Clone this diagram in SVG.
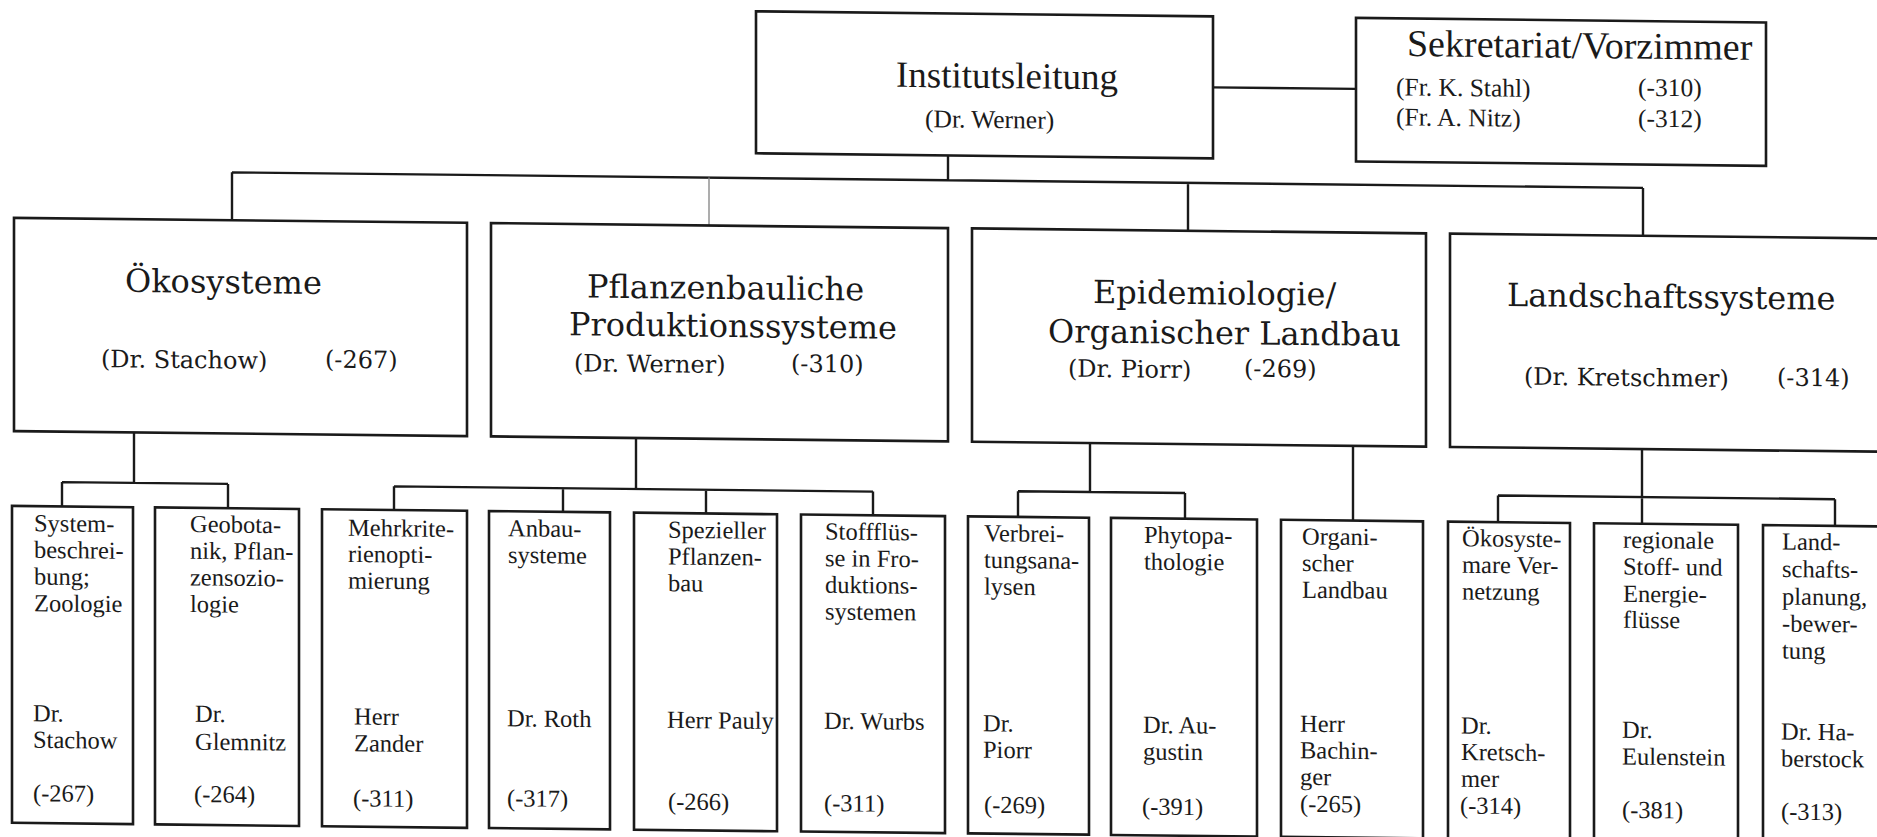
<svg xmlns="http://www.w3.org/2000/svg" width="1877" height="837" viewBox="0 0 1877 837">
<style>
.box{fill:#fff;stroke:#1a1a1a;stroke-width:2.6}
.ln{fill:none;stroke:#1a1a1a;stroke-width:2.4}
.thin{fill:none;stroke:#8a8a8a;stroke-width:1.4}
text{fill:#1a1a1a}
.h1{font-family:"Liberation Serif","Times New Roman",serif;font-size:37px}
.s1{font-family:"Liberation Serif","Times New Roman",serif;font-size:25.5px}
.h2{font-family:"DejaVu Serif",serif;font-size:32px}
.s2{font-family:"DejaVu Serif",serif;font-size:24px}
.t3{font-family:"Liberation Serif","Times New Roman",serif;font-size:24.5px}
</style>
<rect width="1877" height="837" fill="#fff"/>
<g transform="matrix(1 0.011 0 1 0 0)">
<g id="connectors">
<path class="ln" d="M1213 74H1356"/>
<path class="ln" d="M948 145V169.8M232 169.8H1643M232 169.8V217.7M1188 169.8V217.7M1643 169.8V217.7"/>
<path class="thin" d="M709 169.8V217.7"/>
<path class="ln" d="M134 431V481.4M62 481.4H228M62 481.4V505.7M228 481.4V505.7"/>
<path class="ln" d="M636 431V482M394 482H873M394 482V505.7M563 482V505.7M706 482V505.7M873 482V505.7"/>
<path class="ln" d="M1090 431V480M1018 480H1185M1018 480V505.7M1185 480V505.7M1353 431V505.7"/>
<path class="ln" d="M1642 431V505.7M1498 479H1835M1498 479V505.7M1835 479V505.7"/>
</g>
<g id="institutsleitung">
<rect class="box" x="756" y="3" width="457" height="142"/>
<text class="h1" x="896" y="77">Institutsleitung</text>
<text class="s1" x="925" y="117">(Dr. Werner)</text>
</g>
<g id="sekretariat">
<rect class="box" x="1356" y="3" width="410" height="143.5"/>
<text class="h1" x="1407" y="40.6" style="font-size:38px">Sekretariat/Vorzimmer</text>
<text class="s1" x="1396" y="80">(Fr. K. Stahl)</text>
<text class="s1" x="1638" y="77.7">(-310)</text>
<text class="s1" x="1396" y="110">(Fr. A. Nitz)</text>
<text class="s1" x="1638" y="108.7">(-312)</text>
</g>
<g id="oekosysteme">
<rect class="box" x="14" y="217.7" width="453" height="213.3"/>
<text class="h2" x="125" y="290.5">Ökosysteme</text>
<text class="s2" x="101" y="366">(Dr. Stachow)</text>
<text class="s2" x="325" y="364">(-267)</text>
</g>
<g id="pflanzenbau">
<rect class="box" x="491" y="217.7" width="457" height="213.3"/>
<text class="h2" x="587" y="291">Pflanzenbauliche</text>
<text class="h2" x="569" y="329">Produktionssysteme</text>
<text class="s2" x="574" y="365">(Dr. Werner)</text>
<text class="s2" x="791" y="363">(-310)</text>
</g>
<g id="epidemiologie">
<rect class="box" x="972" y="217.7" width="454" height="213.3"/>
<text class="h2" x="1093" y="291">Epidemiologie/</text>
<text class="h2" x="1048" y="330.6">Organischer Landbau</text>
<text class="s2" x="1068" y="365">(Dr. Piorr)</text>
<text class="s2" x="1244" y="363">(-269)</text>
</g>
<g id="landschaftssysteme">
<rect class="box" x="1450" y="217.7" width="460" height="213.3"/>
<text class="h2" x="1507" y="289.5">Landschaftssysteme</text>
<text class="s2" x="1524" y="368">(Dr. Kretschmer)</text>
<text class="s2" x="1777" y="366">(-314)</text>
</g>
<g id="systembeschreibung">
<rect class="box" x="12" y="505.7" width="121" height="317"/>
<text class="t3"><tspan x="34" y="530.9">System-</tspan><tspan x="34" y="557.5">beschrei-</tspan><tspan x="34" y="584.2">bung;</tspan><tspan x="34" y="610.9">Zoologie</tspan><tspan x="33" y="720.9">Dr.</tspan><tspan x="33" y="747.5">Stachow</tspan><tspan x="33" y="800.9">(-267)</tspan></text>
</g>
<g id="geobotanik">
<rect class="box" x="155" y="505.7" width="144" height="317"/>
<text class="t3"><tspan x="190" y="530">Geobota-</tspan><tspan x="190" y="556.6">nik, Pflan-</tspan><tspan x="190" y="583.3">zensozio-</tspan><tspan x="190" y="610">logie</tspan><tspan x="195" y="719.6">Dr.</tspan><tspan x="195" y="747.5">Glemnitz</tspan><tspan x="194" y="800">(-264)</tspan></text>
</g>
<g id="mehrkriterien">
<rect class="box" x="322" y="505.7" width="145" height="317"/>
<text class="t3"><tspan x="348" y="532">Mehrkrite-</tspan><tspan x="348" y="558.2">rienopti-</tspan><tspan x="348" y="584.6">mierung</tspan><tspan x="354" y="720.7">Herr</tspan><tspan x="354" y="747.4">Zander</tspan><tspan x="353" y="802.4">(-311)</tspan></text>
</g>
<g id="anbausysteme">
<rect class="box" x="489" y="505.7" width="121" height="317"/>
<text class="t3"><tspan x="508" y="530.7">Anbau-</tspan><tspan x="508" y="557.3">systeme</tspan><tspan x="507" y="720.7">Dr. Roth</tspan><tspan x="507" y="800.7">(-317)</tspan></text>
</g>
<g id="spezieller">
<rect class="box" x="634" y="505.7" width="143" height="317"/>
<text class="t3"><tspan x="668" y="530.5">Spezieller</tspan><tspan x="668" y="557.2">Pflanzen-</tspan><tspan x="668" y="583.9">bau</tspan><tspan x="667" y="720.5">Herr Pauly</tspan><tspan x="668" y="802.2">(-266)</tspan></text>
</g>
<g id="stofffluesse">
<rect class="box" x="801" y="505.7" width="144" height="317"/>
<text class="t3"><tspan x="825" y="530.4">Stoffflüs-</tspan><tspan x="825" y="557.1">se in Fro-</tspan><tspan x="825" y="583.7">duktions-</tspan><tspan x="825" y="610.4">systemen</tspan><tspan x="824" y="719.7">Dr. Wurbs</tspan><tspan x="824" y="802.1">(-311)</tspan></text>
</g>
<g id="verbreitung">
<rect class="box" x="968" y="505.7" width="121" height="317"/>
<text class="t3"><tspan x="984" y="530.4">Verbrei-</tspan><tspan x="984" y="557">tungsana-</tspan><tspan x="984" y="583.7">lysen</tspan><tspan x="983" y="720.4">Dr.</tspan><tspan x="983" y="747">Piorr</tspan><tspan x="984" y="802">(-269)</tspan></text>
</g>
<g id="phytopathologie">
<rect class="box" x="1111" y="505.7" width="146" height="317"/>
<text class="t3"><tspan x="1144" y="530.3">Phytopa-</tspan><tspan x="1144" y="557">thologie</tspan><tspan x="1143" y="720.3">Dr. Au-</tspan><tspan x="1143" y="747">gustin</tspan><tspan x="1142" y="802">(-391)</tspan></text>
</g>
<g id="organischer-landbau">
<rect class="box" x="1281" y="505.7" width="142" height="317"/>
<text class="t3"><tspan x="1302" y="530.1">Organi-</tspan><tspan x="1302" y="556.8">scher</tspan><tspan x="1302" y="583.4">Landbau</tspan><tspan x="1300" y="717.4">Herr</tspan><tspan x="1300" y="744">Bachin-</tspan><tspan x="1300" y="770.6">ger</tspan><tspan x="1300" y="797.5">(-265)</tspan></text>
</g>
<g id="oekosystemare-vernetzung">
<rect class="box" x="1448" y="505.7" width="122" height="317"/>
<text class="t3"><tspan x="1462" y="530.1">Ökosyste-</tspan><tspan x="1462" y="556.7">mare Ver-</tspan><tspan x="1462" y="583.4">netzung</tspan><tspan x="1461" y="717.4">Dr.</tspan><tspan x="1461" y="744">Kretsch-</tspan><tspan x="1461" y="770.6">mer</tspan><tspan x="1460" y="797.5">(-314)</tspan></text>
</g>
<g id="regionale-stoffflusse">
<rect class="box" x="1594" y="505.7" width="144" height="317"/>
<text class="t3"><tspan x="1623" y="530">regionale</tspan><tspan x="1623" y="556.7">Stoff- und</tspan><tspan x="1623" y="584">Energie-</tspan><tspan x="1623" y="610">flüsse</tspan><tspan x="1622" y="720">Dr.</tspan><tspan x="1622" y="746.7">Eulenstein</tspan><tspan x="1622" y="800">(-381)</tspan></text>
</g>
<g id="landschaftsplanung">
<rect class="box" x="1763" y="505.7" width="140" height="317"/>
<text class="t3"><tspan x="1782" y="530">Land-</tspan><tspan x="1782" y="557.5">schafts-</tspan><tspan x="1782" y="585">planung,</tspan><tspan x="1782" y="612">-bewer-</tspan><tspan x="1782" y="639">tung</tspan><tspan x="1781" y="720">Dr. Ha-</tspan><tspan x="1781" y="747">berstock</tspan><tspan x="1781" y="800">(-313)</tspan></text>
</g>
</g>
</svg>
